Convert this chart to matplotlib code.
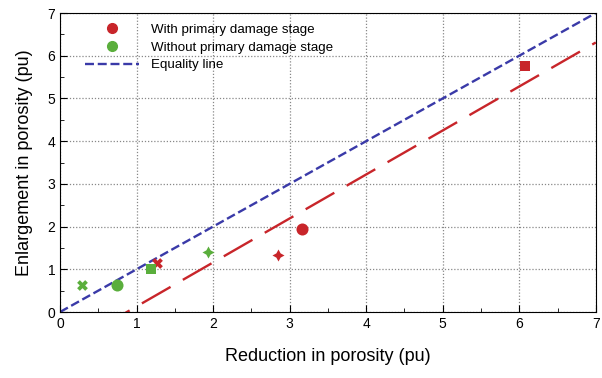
import numpy as np
import matplotlib.pyplot as plt
from matplotlib.lines import Line2D

plt.rcParams['font.family'] = ['Liberation Sans', 'DejaVu Sans']

# data
with_x = [1.27, 2.85, 3.16, 6.08]
with_y = [1.15, 1.33, 1.94, 5.76]
with_markers = ['X', (4, 1, 0), 'o', 's']

without_x = [0.29, 0.75, 1.19, 1.93]
without_y = [0.63, 0.63, 1.00, 1.40]
without_markers = ['X', 'o', 's', (4, 1, 0)]

fit_slope = 1.03
fit_intercept = -0.90

red = '#c8252a'
green = '#5aae3c'
blue = '#3a3aa8'

fig = plt.figure(figsize=(6.02, 3.78), dpi=100)
ax = fig.add_axes([0.0997, 0.1746, 0.890, 0.791])

# equality line and fitted trend
xs = np.array([0, 7])
ax.plot(xs, xs, color=blue, lw=1.7, dashes=(3.8, 1.6), zorder=2)
ax.plot(xs, fit_slope * xs + fit_intercept, color=red, lw=1.7, dashes=(14, 6), zorder=2)


def marker_size(m):
    if m == (4, 1, 0):
        return 75
    if m == 'o':
        return 75
    return 60


for x, y, m in zip(with_x, with_y, with_markers):
    ax.scatter(x, y, marker=m, s=marker_size(m), color=red, zorder=3, linewidths=0)
for x, y, m in zip(without_x, without_y, without_markers):
    ax.scatter(x, y, marker=m, s=marker_size(m), color=green, zorder=3, linewidths=0)

ax.set_xlim(0, 7)
ax.set_ylim(0, 7)
ax.set_xticks(range(8))
ax.set_yticks(range(8))
ax.set_xticks(np.arange(0.5, 7, 1), minor=True)
ax.set_yticks(np.arange(0.5, 7, 1), minor=True)
ax.tick_params(which='both', direction='in', labelsize=10)
ax.tick_params(which='major', length=5)
ax.tick_params(which='minor', length=3)
ax.grid(True, which='major', linestyle=(0, (1, 1.5)), color='#888888', lw=0.9)

ax.set_xlabel('Reduction in porosity (pu)', fontsize=13, labelpad=12)
ax.set_ylabel('Enlargement in porosity (pu)', fontsize=13, labelpad=10)

handles = [
    Line2D([], [], marker='o', color=red, ls='none', markersize=7),
    Line2D([], [], marker='o', color=green, ls='none', markersize=7),
    Line2D([], [], color=blue, lw=1.7, dashes=(3.8, 1.6)),
]
labels = ['With primary damage stage', 'Without primary damage stage', 'Equality line']
ax.legend(handles, labels, loc='upper left', frameon=False, fontsize=9.6,
          handlelength=4.0, handletextpad=0.9, labelspacing=0.4,
          bbox_to_anchor=(0.025, 1.005))

fig.savefig('out.png', dpi=100)
